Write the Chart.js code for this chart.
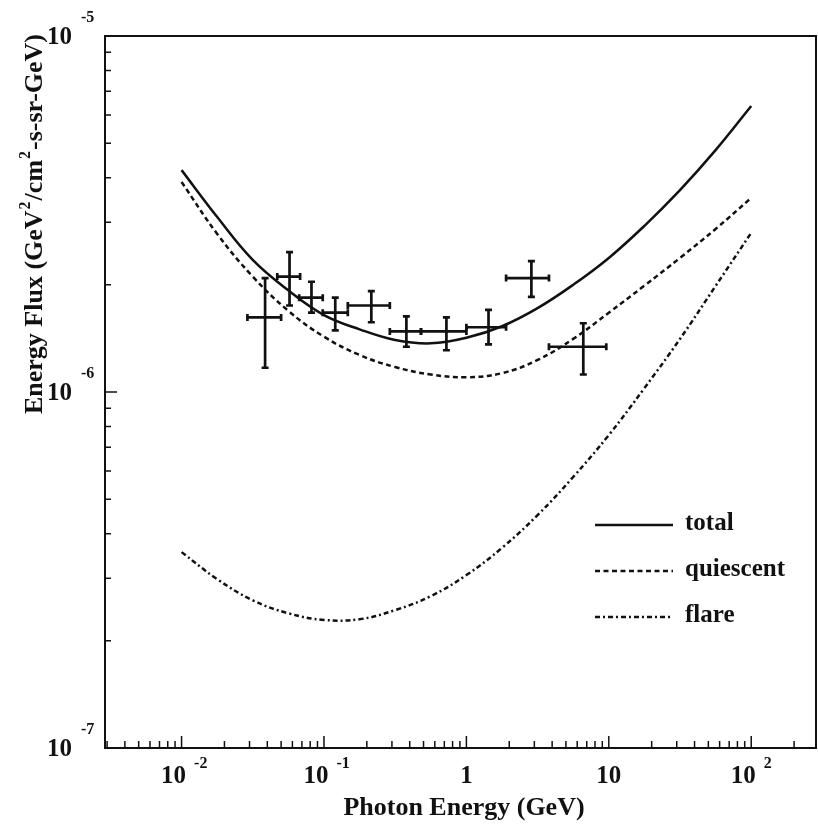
<!DOCTYPE html>
<html>
<head>
<meta charset="utf-8">
<script src="https://cdn.jsdelivr.net/npm/chart.js@4.4.1/dist/chart.umd.min.js"></script>
<style>
body{margin:0;background:#fff;}
#wrap{width:818px;height:825px;}
</style>
</head>
<body>
<div id="wrap"><canvas id="chart" width="818" height="825"></canvas></div>
<script>
// model curves, photon energy in GeV, flux in GeV^2/cm^2-s-sr-GeV
const energies = [0.01, 0.0178, 0.0316, 0.0562, 0.1, 0.178, 0.316, 0.562, 1, 1.78, 3.16, 5.62, 10, 17.8, 31.6, 56.2, 100];
const totalFlux = [4.20e-6, 3.10e-6, 2.35e-6, 1.93e-6, 1.645e-6, 1.50e-6, 1.40e-6, 1.37e-6, 1.42e-6, 1.53e-6, 1.72e-6, 2.00e-6, 2.38e-6, 2.93e-6, 3.69e-6, 4.78e-6, 6.36e-6];
const quiescentFlux = [3.89e-6, 2.78e-6, 2.11e-6, 1.69e-6, 1.43e-6, 1.27e-6, 1.175e-6, 1.12e-6, 1.10e-6, 1.13e-6, 1.23e-6, 1.41e-6, 1.67e-6, 1.99e-6, 2.38e-6, 2.87e-6, 3.51e-6];
const flareFlux = [3.55e-7, 2.98e-7, 2.60e-7, 2.39e-7, 2.29e-7, 2.30e-7, 2.44e-7, 2.67e-7, 3.06e-7, 3.65e-7, 4.51e-7, 5.77e-7, 7.57e-7, 1.026e-6, 1.409e-6, 1.985e-6, 2.80e-6];

// measured points: energy bin and flux with errors
const ptE    = [0.0386, 0.0573, 0.0817, 0.120, 0.215, 0.379, 0.724, 1.43, 2.86, 6.62];
const ptELo  = [0.029, 0.047, 0.067, 0.098, 0.147, 0.29, 0.48, 1.0, 1.9, 3.8];
const ptEHi  = [0.05, 0.068, 0.098, 0.147, 0.29, 0.48, 1.0, 1.9, 3.8, 9.6];
const ptFlux   = [1.62e-6, 2.11e-6, 1.84e-6, 1.67e-6, 1.75e-6, 1.48e-6, 1.48e-6, 1.52e-6, 2.09e-6, 1.34e-6];
const ptFluxLo = [1.17e-6, 1.75e-6, 1.67e-6, 1.49e-6, 1.57e-6, 1.34e-6, 1.31e-6, 1.36e-6, 1.85e-6, 1.12e-6];
const ptFluxHi = [2.09e-6, 2.47e-6, 2.04e-6, 1.84e-6, 1.92e-6, 1.63e-6, 1.62e-6, 1.70e-6, 2.33e-6, 1.56e-6];

const xTicks = [0.01, 0.1, 1, 10, 100];
const xTickLabels = [["10","-2"], ["10","-1"], ["1",""], ["10",""], ["10","2"]];
const yTicks = [1e-5, 1e-6, 1e-7];
const yTickLabels = [["10","-5"], ["10","-6"], ["10","-7"]];

const INK = "#111";
const SERIF = "'Liberation Serif', 'Times New Roman', serif";

function pts(xs, ys){ return xs.map((x,i)=>({x:x, y:ys[i]})); }

// error bars for the measured points
const errorBars = {
  id:"errorBars",
  afterDatasetsDraw(chart){
    const ctx = chart.ctx, xs = chart.scales.x, ys = chart.scales.y;
    const cap = 3.5;
    ctx.save();
    ctx.strokeStyle = INK;
    ctx.lineWidth = 2.7;
    ctx.lineCap = "butt";
    for (let i=0;i<ptE.length;i++){
      const cx = xs.getPixelForValue(ptE[i]), cy = ys.getPixelForValue(ptFlux[i]);
      const x0 = xs.getPixelForValue(ptELo[i]), x1 = xs.getPixelForValue(ptEHi[i]);
      const y0 = ys.getPixelForValue(ptFluxLo[i]), y1 = ys.getPixelForValue(ptFluxHi[i]);
      ctx.beginPath();
      ctx.moveTo(x0, cy); ctx.lineTo(x1, cy);
      ctx.moveTo(cx, y0); ctx.lineTo(cx, y1);
      ctx.moveTo(x0, cy-cap); ctx.lineTo(x0, cy+cap);
      ctx.moveTo(x1, cy-cap); ctx.lineTo(x1, cy+cap);
      ctx.moveTo(cx-cap, y0); ctx.lineTo(cx+cap, y0);
      ctx.moveTo(cx-cap, y1); ctx.lineTo(cx+cap, y1);
      ctx.stroke();
    }
    ctx.restore();
  }
};

function drawPow(ctx, base, exp, cx, cy, baseSize, expSize, expDy, gap){
  ctx.font = "bold " + baseSize + "px " + SERIF;
  ctx.textAlign = "center";
  ctx.textBaseline = "middle";
  ctx.fillText(base, cx, cy);
  if (exp){
    const w = ctx.measureText(base).width;
    ctx.font = "bold " + expSize + "px " + SERIF;
    ctx.textAlign = "left";
    ctx.fillText(exp, cx + w/2 + gap, cy + expDy);
  }
}

// frame, inward ticks, labels, titles, legend
const decor = {
  id:"decor",
  afterDraw(chart){
    const ctx = chart.ctx, a = chart.chartArea;
    const xs = chart.scales.x, ys = chart.scales.y;
    ctx.save();
    ctx.strokeStyle = INK;
    ctx.fillStyle = INK;
    ctx.lineWidth = 2;
    ctx.strokeRect(a.left, a.top, a.right-a.left, a.bottom-a.top);

    ctx.lineWidth = 1.5;
    ctx.beginPath();
    for (let n=-3;n<=2;n++){
      for (let m=1;m<=9;m++){
        const v = m*Math.pow(10,n);
        if (v < xs.min || v > xs.max) continue;
        const px = xs.getPixelForValue(v), len = m===1 ? 12 : 7;
        ctx.moveTo(px, a.bottom); ctx.lineTo(px, a.bottom-len);
      }
    }
    for (let n=-7;n<=-6;n++){
      for (let m=1;m<=9;m++){
        const v = m*Math.pow(10,n);
        if (v < ys.min || v > ys.max) continue;
        const py = ys.getPixelForValue(v), len = m===1 ? 12 : 6;
        ctx.moveTo(a.left, py); ctx.lineTo(a.left+len, py);
      }
    }
    ctx.stroke();

    xTicks.forEach((v,i)=>{
      const px = xs.getPixelForValue(v);
      const lab = xTickLabels[i];
      drawPow(ctx, lab[0], lab[1], lab[1] ? px-8 : px, a.bottom+29, 25, 16, -13, 8);
    });
    yTicks.forEach((v,i)=>{
      const py = ys.getPixelForValue(v);
      const lab = yTickLabels[i];
      drawPow(ctx, lab[0], lab[1], 59.5, py+2, 25, 16, -20, 9);
    });

    // x title
    ctx.font = "bold 26px " + SERIF;
    ctx.textAlign = "center";
    ctx.textBaseline = "middle";
    ctx.fillText("Photon Energy (GeV)", 464, 808);

    // y title with superscripts
    const segs = [["Energy Flux (GeV",0],["2",1],["/cm",0],["2",1],["-s-sr-GeV)",0]];
    ctx.save();
    ctx.translate(33, 224);
    ctx.rotate(-Math.PI/2);
    let tw = 0;
    segs.forEach(s=>{ ctx.font = "bold " + (s[1]?16:26) + "px " + SERIF; tw += ctx.measureText(s[0]).width + (s[1]?2:0); });
    let xx = -tw/2;
    ctx.textAlign = "left";
    ctx.textBaseline = "alphabetic";
    segs.forEach(s=>{
      ctx.font = "bold " + (s[1]?16:26) + "px " + SERIF;
      ctx.fillText(s[0], xx + (s[1]?1:0), s[1] ? -3 : 9);
      xx += ctx.measureText(s[0]).width + (s[1]?2:0);
    });
    ctx.restore();

    // legend
    const items = chart.data.datasets.filter(d=>d.type==="line");
    items.forEach((d,i)=>{
      const y = 525 + i*46;
      ctx.lineWidth = 2.5;
      ctx.setLineDash(d.borderDash || []);
      ctx.beginPath();
      ctx.moveTo(595, y); ctx.lineTo(673, y);
      ctx.stroke();
      ctx.setLineDash([]);
      ctx.font = "bold 25px " + SERIF;
      ctx.textAlign = "left";
      ctx.textBaseline = "middle";
      ctx.fillText(d.label, 685, y-1);
    });
    ctx.restore();
  }
};

const lineBase = {type:"line", pointRadius:0, borderColor:INK, borderWidth:2.5, fill:false, tension:0.4};

new Chart(document.getElementById("chart"), {
  data:{
    datasets:[
      Object.assign({}, lineBase, {label:"total", data:pts(energies,totalFlux)}),
      Object.assign({}, lineBase, {label:"quiescent", data:pts(energies,quiescentFlux), borderDash:[5,3.5]}),
      Object.assign({}, lineBase, {label:"flare", data:pts(energies,flareFlux), borderDash:[5,3,2,3]}),
      {type:"scatter", label:"data", data:pts(ptE,ptFlux), pointRadius:0, borderColor:INK, backgroundColor:INK}
    ]
  },
  options:{
    responsive:false,
    animation:false,
    devicePixelRatio:1,
    layout:{padding:{left:105, top:36, right:2, bottom:77}},
    plugins:{legend:{display:false}, tooltip:{enabled:false}},
    scales:{
      x:{type:"logarithmic", min:0.0029, max:285,
         ticks:{display:false}, grid:{display:false, drawTicks:false},
         border:{display:true, color:INK, width:2}},
      y:{type:"logarithmic", min:1e-7, max:1e-5,
         ticks:{display:false}, grid:{display:false, drawTicks:false},
         border:{display:true, color:INK, width:2}}
    }
  },
  plugins:[errorBars, decor]
});
</script>
</body>
</html>
